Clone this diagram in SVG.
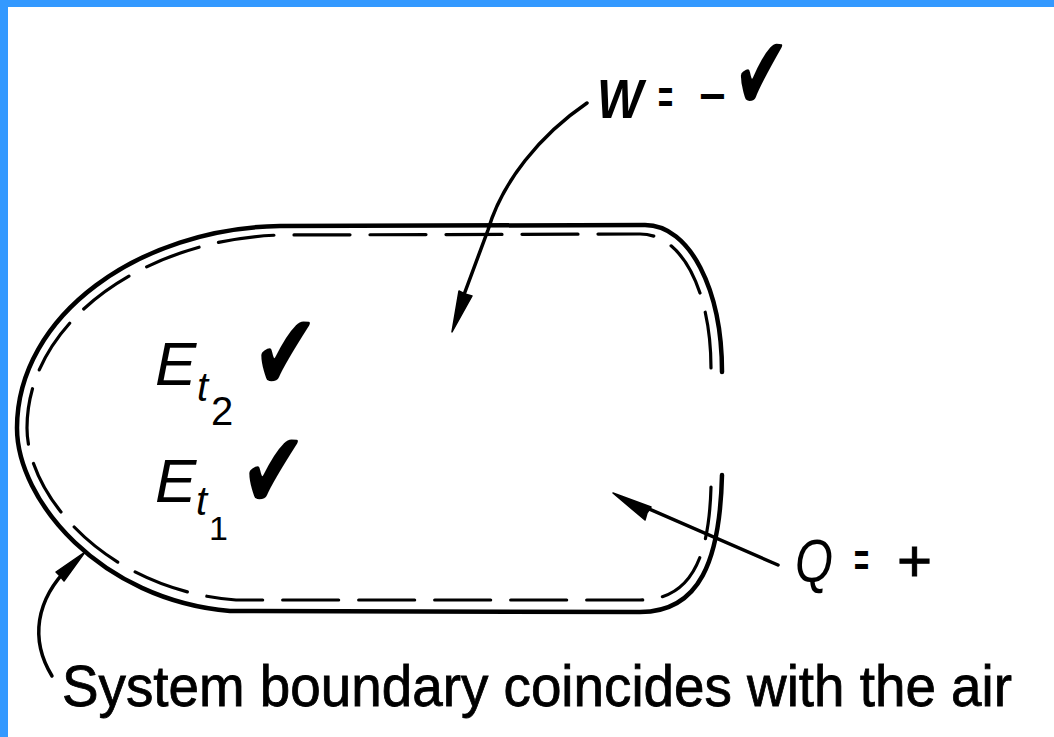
<svg xmlns="http://www.w3.org/2000/svg" width="1054" height="737" viewBox="0 0 1054 737">
<style>
.frame{fill:#3399FF}
.solid{fill:none;stroke:#000;stroke-width:4.5;stroke-linecap:round;stroke-linejoin:round}
.dash{fill:none;stroke:#000;stroke-width:3.2;stroke-dasharray:56 20;stroke-linecap:round}
.conn{fill:none;stroke:#000;stroke-width:3.5;stroke-linecap:round}
.head{fill:#000;stroke:#000;stroke-width:1.5;stroke-linejoin:round}
.lbl{font-family:"Liberation Sans",Arial,sans-serif;fill:#000}
.chk{font-family:"DejaVu Sans",sans-serif;fill:#000}
</style>
<rect width="1054" height="737" fill="#fff"/>
<rect class="frame" x="0" y="0" width="1054" height="7"/>
<rect class="frame" x="0" y="0" width="8" height="737"/>

<g id="system-boundary">
  <path class="solid" d="M 722 372 C 722 290 690 225 645 225 L 280 226 C 140 228 17 315 17 428 C 17 500 100 600 230 611 L 640 612 C 700 612 720 560 722 475"/>
  <path class="dash" d="M 711 368 C 711 295 684 234 640 234 L 282 235 C 148 238 27 320 27 428 C 27 495 106 590 236 600 L 640 600 C 690 600 709 560 711 487"/>
</g>

<g id="label-W">
  <text class="lbl" x="597" y="118" font-size="56" font-weight="bold" font-style="italic" textLength="46" lengthAdjust="spacingAndGlyphs">W</text>
  <text class="lbl" x="658" y="113" font-size="46" font-weight="bold" textLength="15" lengthAdjust="spacingAndGlyphs">=</text>
  <text class="lbl" x="699" y="112" font-size="46" font-weight="bold">−</text>
  <text class="chk" x="0" y="0" font-size="105" transform="translate(733 110) scale(0.65 1)">✔</text>
</g>

<g id="label-E2">
  <text class="lbl" x="155" y="385" font-size="62" font-style="italic">E</text>
  <text class="lbl" x="197" y="401" font-size="40" font-style="italic">t</text>
  <text class="lbl" x="211" y="425" font-size="40">2</text>
  <text class="chk" x="0" y="0" font-size="110" transform="translate(252 391) scale(0.73 1)">✔</text>
</g>

<g id="label-E1">
  <text class="lbl" x="155" y="502" font-size="62" font-style="italic">E</text>
  <text class="lbl" x="196" y="515" font-size="40" font-style="italic">t</text>
  <text class="lbl" x="209" y="540" font-size="34">1</text>
  <text class="chk" x="0" y="0" font-size="110" transform="translate(240 509) scale(0.73 1)">✔</text>
</g>

<g id="label-Q">
  <text class="lbl" x="795" y="582" font-size="62" font-style="italic" textLength="38" lengthAdjust="spacingAndGlyphs">Q</text>
  <text class="lbl" x="854" y="576" font-size="46" font-weight="bold" textLength="15" lengthAdjust="spacingAndGlyphs">=</text>
  <text class="lbl" x="897" y="581" font-size="60" stroke="#000" stroke-width="1">+</text>
</g>

<g id="caption">
  <text class="lbl" x="62" y="706" font-size="57" stroke="#000" stroke-width="0.8" textLength="950" lengthAdjust="spacingAndGlyphs">System boundary coincides with the air</text>
</g>

<g id="connectors">
  <path class="conn" d="M 587 103 C 540 135 502 182 488 230 L 462 300"/>
  <polygon class="head" points="452,332 472,296 465,294 459,291"/>
  <path class="conn" d="M 778 565 L 640 505"/>
  <polygon class="head" points="613,493 651,507 647,513 645,520"/>
  <path class="conn" d="M 52 676 C 30 640 35 600 70 566"/>
  <polygon class="head" points="85,552 64,581 60,576 56,572"/>
</g>
</svg>
